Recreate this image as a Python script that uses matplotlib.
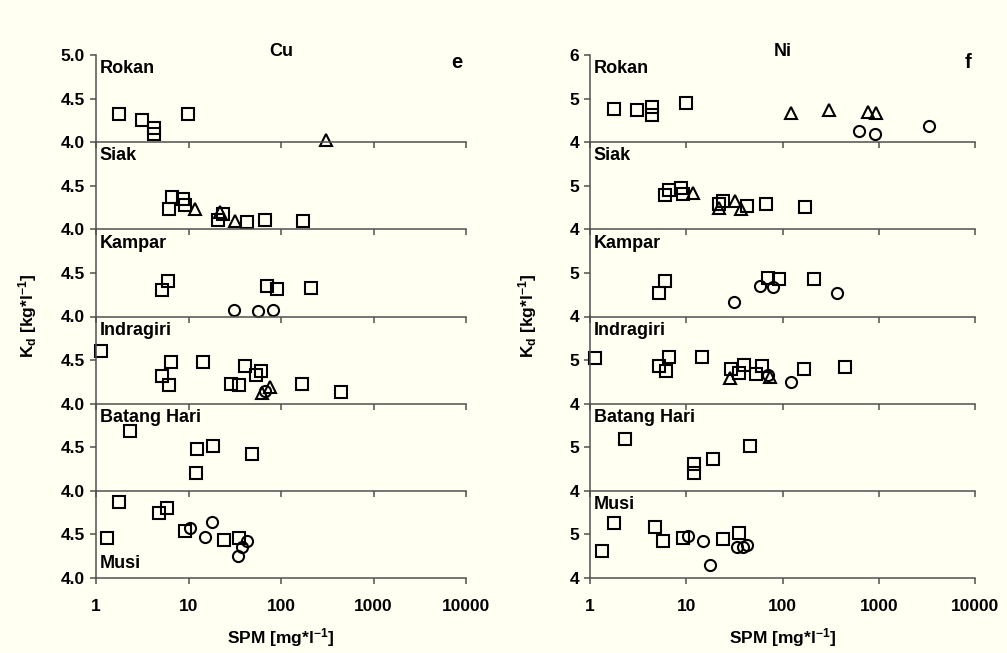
import matplotlib
matplotlib.use("Agg")
import matplotlib.pyplot as plt
from matplotlib.ticker import FixedLocator, FixedFormatter, NullLocator

plt.rcParams['font.family'] = ['Liberation Sans', 'DejaVu Sans']
plt.rcParams['font.weight'] = 'bold'
plt.rcParams['mathtext.default'] = 'regular'

rivers = ['Rokan', 'Siak', 'Kampar', 'Indragiri', 'Batang Hari', 'Musi']

# Cu: river -> (SPM [mg/l], Kd)
cu_squares = {
    'Rokan': ([1.79, 3.12, 4.27, 4.27, 9.8], [4.32, 4.26, 4.16, 4.09, 4.32]),
    'Siak': ([6.2, 6.6, 8.8, 9.2, 21, 23.8, 43, 67, 172],
             [4.23, 4.37, 4.35, 4.28, 4.11, 4.18, 4.08, 4.11, 4.09]),
    'Kampar': ([5.17, 6.05, 71, 91, 213], [4.30, 4.41, 4.35, 4.32, 4.33]),
    'Indragiri': ([1.12, 5.2, 6.2, 6.5, 14.5, 28.6, 35.2, 40.8, 53.7, 60.3, 167, 442],
                  [4.60, 4.32, 4.21, 4.48, 4.48, 4.23, 4.21, 4.43, 4.33, 4.38, 4.23, 4.13]),
    'Batang Hari': ([2.33, 12.3, 12.0, 18.5, 48.2], [4.69, 4.48, 4.20, 4.51, 4.42]),
    'Musi': ([1.79, 1.31, 4.84, 5.9, 9.2, 24.4, 35.5],
             [4.87, 4.46, 4.74, 4.80, 4.54, 4.44, 4.46]),
}
cu_circles = {
    'Kampar': ([31.3, 56.9, 81], [4.08, 4.06, 4.08]),
    'Indragiri': ([67], [4.15]),
    'Musi': ([10.4, 15.2, 17.8, 34, 38.2, 42.6], [4.57, 4.47, 4.64, 4.25, 4.36, 4.43]),
}
cu_triangles = {
    'Rokan': ([309], [4.02]),
    'Siak': ([11.8, 21.9, 31.8], [4.23, 4.20, 4.10]),
    'Indragiri': ([62, 76], [4.12, 4.19]),
}

# Ni: river -> (SPM [mg/l], Kd)
ni_squares = {
    'Rokan': ([1.78, 3.1, 4.38, 4.38, 9.9], [4.75, 4.74, 4.80, 4.62, 4.89]),
    'Siak': ([6.07, 6.6, 8.8, 9.2, 21.9, 24, 42.5, 67.6, 173],
             [4.79, 4.90, 4.94, 4.81, 4.58, 4.64, 4.54, 4.58, 4.51]),
    'Kampar': ([5.17, 6.0, 71, 92, 214], [4.53, 4.82, 4.89, 4.86, 4.86]),
    'Indragiri': ([1.13, 5.2, 6.17, 6.6, 14.5, 29, 35.4, 40.2, 53, 61, 169, 446],
                  [5.04, 4.87, 4.74, 5.06, 5.06, 4.79, 4.70, 4.89, 4.68, 4.87, 4.79, 4.85]),
    'Batang Hari': ([2.31, 12.05, 11.9, 18.8, 46], [5.19, 4.61, 4.41, 4.73, 5.04]),
    'Musi': ([1.78, 1.32, 4.77, 5.78, 9.2, 24.3, 35.6],
             [5.26, 4.62, 5.18, 4.84, 4.92, 4.89, 5.03]),
}
ni_circles = {
    'Rokan': ([630, 918, 3290], [4.26, 4.19, 4.37]),
    'Kampar': ([31.2, 58.5, 80, 365], [4.34, 4.70, 4.68, 4.55]),
    'Indragiri': ([71, 122], [4.66, 4.49]),
    'Musi': ([10.5, 15.1, 17.8, 34, 38.6, 42.5], [4.97, 4.85, 4.30, 4.72, 4.70, 4.76]),
}
ni_triangles = {
    'Rokan': ([122, 307, 777, 933], [4.68, 4.74, 4.70, 4.66]),
    'Siak': ([11.7, 21.9, 32, 36.8], [4.83, 4.49, 4.66, 4.47]),
    'Indragiri': ([28.5, 75], [4.58, 4.62]),
}

x_ticks = [1, 10, 100, 1000, 10000]
x_labels = ['1', '10', '100', '1000', '10000']

bg = '#FFFFF2'
line_col = '#505050'

fig = plt.figure(figsize=(10.07, 6.53), dpi=100, facecolor=bg)


def draw_panel(left, right, squares, circles, triangles, ylo, yhi, ticks, fmt,
               metal, letter, musi_bottom):
    gs = fig.add_gridspec(len(rivers), 1, left=left, right=right,
                          top=1 - 55 / 653, bottom=1 - 578 / 653, hspace=0)
    axes = []
    for i, river in enumerate(rivers):
        ax = fig.add_subplot(gs[i])
        ax.patch.set_visible(False)
        ax.set_zorder(10 - i)
        ax.set_xscale('log')
        ax.set_xlim(1, 10000)
        ax.set_ylim(ylo, yhi)
        for s in ['top', 'right']:
            ax.spines[s].set_visible(False)
        for s in ['left', 'bottom']:
            ax.spines[s].set_color(line_col)
            ax.spines[s].set_linewidth(1.1)
        ax.xaxis.set_major_locator(FixedLocator(x_ticks))
        ax.xaxis.set_minor_locator(NullLocator())
        if i == len(rivers) - 1:
            ax.xaxis.set_major_formatter(FixedFormatter(x_labels))
        else:
            ax.xaxis.set_major_formatter(FixedFormatter([''] * len(x_ticks)))
        yt = ticks + [yhi] if i == 0 else ticks
        ax.yaxis.set_major_locator(FixedLocator(yt))
        ax.yaxis.set_major_formatter(FixedFormatter([fmt.format(v) for v in yt]))
        ax.tick_params(axis='both', direction='out', length=4, width=1.1,
                       color=line_col, labelsize=12.5, pad=4)
        ax.tick_params(axis='x', pad=11)
        for lab in ax.get_xticklabels() + ax.get_yticklabels():
            lab.set_fontweight('bold')

        for data, mk, ms in [(squares, 's', 8), (circles, 'o', 8), (triangles, '^', 8)]:
            if river in data:
                xs, ys = data[river]
                ax.plot(xs, ys, linestyle='none', marker=mk, ms=ms, mfc='none',
                        mec='black', mew=1.5, clip_on=False)

        if river == 'Musi' and musi_bottom:
            ax.text(0.01, 0.07, river, transform=ax.transAxes, ha='left',
                    va='bottom', fontsize=13, fontweight='bold')
        else:
            ax.text(0.01, 0.94, river, transform=ax.transAxes, ha='left',
                    va='top', fontsize=13, fontweight='bold')
        axes.append(ax)

    fig.text((left + right) / 2, 1 - 51 / 653, metal, ha='center', va='center',
             fontsize=13, fontweight='bold')
    fig.text(right - 4 / 1007, 1 - 62 / 653, letter, ha='right', va='center',
             fontsize=14.5, fontweight='bold')
    axes[-1].set_xlabel('SPM [mg*l$^{-1}$]', fontsize=12.5, fontweight='bold',
                        labelpad=9)
    return axes


left_axes = draw_panel(96 / 1007, 466 / 1007, cu_squares, cu_circles, cu_triangles,
                       4.0, 5.0, [4.0, 4.5], '{:.1f}', 'Cu', 'e', True)
right_axes = draw_panel(590 / 1007, 975 / 1007, ni_squares, ni_circles, ni_triangles,
                        4.0, 6.0, [4.0, 5.0], '{:.0f}', 'Ni', 'f', False)

fig.text(28 / 1007, 1 - 316 / 653, 'K$_d$ [kg*l$^{-1}$]', rotation=90,
         ha='center', va='center', fontsize=12.5, fontweight='bold')
fig.text(528 / 1007, 1 - 316 / 653, 'K$_d$ [kg*l$^{-1}$]', rotation=90,
         ha='center', va='center', fontsize=12.5, fontweight='bold')

fig.savefig('out.png', dpi=100, facecolor=bg)
